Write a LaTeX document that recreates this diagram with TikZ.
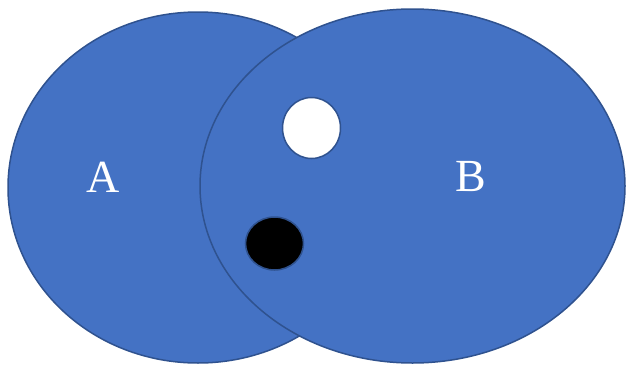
\documentclass[tikz,border=0pt]{standalone}
\usepackage{fontspec}
\setmainfont{Liberation Serif}
\definecolor{setfill}{HTML}{4472C4}
\definecolor{setline}{HTML}{2F528F}
\begin{document}
\begin{tikzpicture}[x=1pt,y=-1pt,
  setshape/.style={fill=setfill,draw=setline,line width=1.5pt},
  lbl/.style={text=white,font=\fontsize{46}{50}\selectfont,inner sep=0pt}]
\useasboundingbox (0,0) rectangle (626,364);
\clip (0,0) rectangle (626,364);
\draw[setshape] (198,187.5) ellipse [x radius=190, y radius=175.5];
\draw[setshape] (412.5,186) ellipse [x radius=212.5, y radius=177];
\draw[fill=white,draw=setline,line width=1.5pt] (311.5,128) ellipse [x radius=29, y radius=30.5];
\draw[fill=black,draw=setline,line width=1.5pt] (274.5,243.5) ellipse [x radius=29, y radius=26.5];
\node[lbl] (a) at (103,177) {A};
\node[lbl] (b) at (470.5,176.5) {B};
\end{tikzpicture}
\end{document}
